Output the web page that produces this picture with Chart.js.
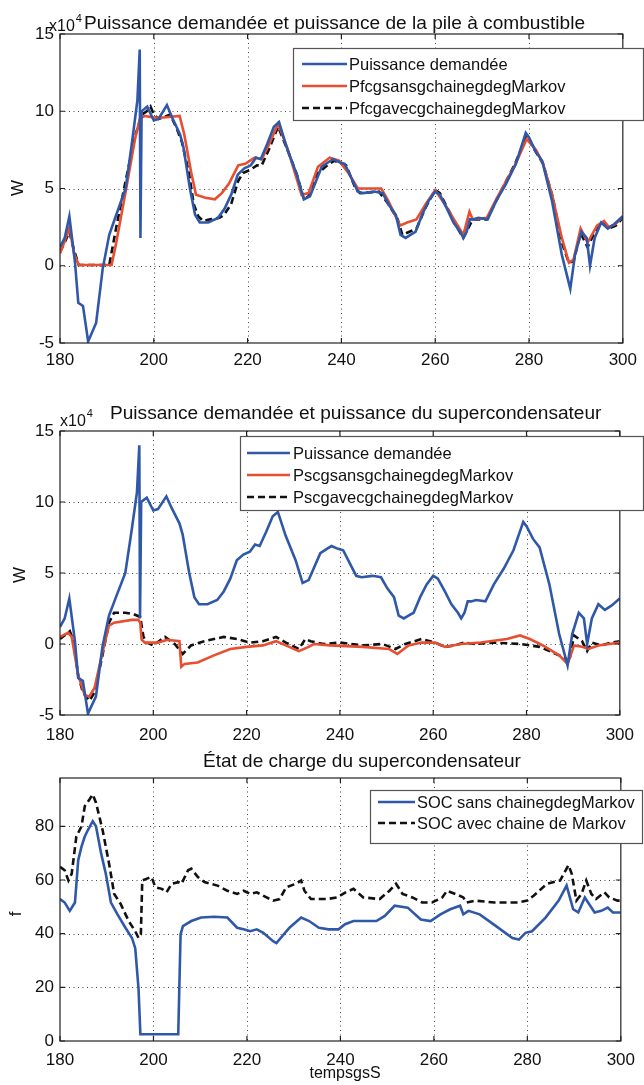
<!DOCTYPE html>
<html lang="fr">
<head>
<meta charset="UTF-8">
<title>Puissance et SOC</title>
<style>
  body { margin: 0; background: #fff; }
  #wrap { position: relative; width: 644px; height: 1085px; }
  canvas { position: absolute; left: 0; }
</style>
</head>
<body>
<div id="wrap">
  <canvas id="c1" width="644" height="365" style="top:0px"></canvas>
  <canvas id="c2" width="644" height="375" style="top:365px"></canvas>
  <canvas id="c3" width="644" height="345" style="top:740px"></canvas>
</div>
<script src="https://cdn.jsdelivr.net/npm/chart.js@4.4.1/dist/chart.umd.min.js"></script>
<script>
// [temps (s), valeur] - puissances en x10^4 W, SOC en %
const demande = [[180,1.2],[181,1.8],[182,3.2],[183.2,0.2],[183.9,-2.4],[184.9,-2.6],[186,-4.9],[187.7,-3.7],[189.1,-0.2],[190.5,2.0],[192,3.3],[194,5.0],[195.4,8.1],[196.5,10.7],[197.0,14.0],[197.15,1.8],[197.4,10.0],[198.6,10.3],[200,9.4],[201,9.5],[202.8,10.4],[203.9,9.6],[205.6,8.5],[206.3,7.7],[207.7,5.0],[208.8,3.3],[209.8,2.8],[211.6,2.8],[213.7,3.1],[215.1,3.7],[216.5,4.6],[217.9,5.9],[219.3,6.3],[220.7,6.5],[221.8,7.0],[222.8,6.9],[224.2,7.9],[225.6,9.0],[226.7,9.3],[228.4,7.6],[230.5,5.9],[232,4.3],[233.3,4.5],[235.8,6.4],[237.2,6.7],[238.2,6.9],[239.6,6.7],[240.7,6.6],[242.1,5.7],[243.5,4.8],[244.6,4.7],[247,4.8],[248.8,4.7],[250.2,3.9],[251.6,3.3],[252.6,2.0],[253.7,1.8],[254.7,2.0],[255.8,2.2],[257.2,3.3],[258.6,4.2],[260,4.8],[261,4.6],[262.5,3.7],[263.9,2.8],[265.3,2.2],[266,1.8],[266.7,2.2],[267.4,3.0],[268.1,3.0],[269.2,3.1],[271.2,3.0],[273,4.2],[275.1,5.3],[277.2,6.6],[279.3,8.6],[280,8.3],[281.4,7.4],[282.8,6.8],[284.9,4.2],[287,0.7],[288.8,-1.5],[289.8,0.7],[291.2,2.2],[292.3,1.8],[293,0.0],[294,1.8],[295.4,2.8],[296.8,2.4],[298.2,2.7],[300,3.2]];

const pfcSans = [[180,0.8],[181,1.6],[182,2.5],[183,0.8],[184,0.05],[191,0.05],[192,1.5],[194,4.8],[196,8.2],[197,9.5],[198,9.7],[200,9.6],[202,9.6],[205.5,9.7],[206.5,8.5],[208,6.0],[209,4.6],[211,4.4],[213,4.3],[214.5,4.7],[216,5.3],[218,6.5],[219.5,6.6],[221.5,7.0],[223,6.9],[224.5,7.8],[226.5,9.2],[228.5,7.6],[231.5,4.6],[233,4.7],[235,6.4],[237.5,7.0],[239.5,6.8],[241.5,6.0],[243.5,5.0],[248.5,5.0],[250,4.2],[252.5,2.6],[254,2.8],[256,3.0],[258,4.0],[260,4.9],[262,4.0],[264,3.0],[266,2.0],[267.3,3.5],[268,3.0],[271,3.1],[273,4.3],[277,6.5],[279.5,8.2],[281.5,7.5],[283,6.6],[285,4.5],[287,1.8],[288.5,0.2],[289.5,0.4],[291,2.4],[292.5,1.5],[294.5,2.6],[296,2.9],[297,2.5],[298.5,2.7],[300,3.2]];

const pfcAvec = [[180,0.9],[181,1.5],[182,2.2],[183,1.0],[184,0.05],[190.5,0.05],[192,2.5],[194,5.5],[196,8.4],[197.5,9.8],[198.5,10.0],[199.3,10.3],[200,9.8],[201,9.5],[202,9.6],[203.5,9.8],[205,8.8],[206,8.0],[207.5,6.0],[208.5,4.0],[209.5,3.2],[210.5,2.9],[212,3.0],[214,3.1],[215,3.3],[216.5,4.0],[218,5.5],[219,6.0],[220.5,6.2],[222,6.5],[223,6.5],[224.5,7.5],[226.5,9.0],[228.5,7.5],[230.5,5.9],[232,4.3],[233,4.5],[235,6.0],[237,6.5],[238.5,6.8],[240,6.6],[241,6.5],[243,5.0],[244,4.7],[248,4.8],[250,4.0],[252,3.0],[253,2.0],[254.5,2.2],[256,2.4],[258,3.8],[260,4.9],[261,4.7],[263,3.5],[265,2.3],[266,1.8],[267,2.4],[268,3.0],[271,3.0],[273,4.2],[277,6.6],[279.5,8.4],[281,7.6],[283,6.6],[285,4.5],[287,1.5],[288.5,0.2],[289.5,0.3],[291,2.1],[292.5,1.2],[294.5,2.5],[296,2.8],[297,2.4],[298.5,2.6],[300,3.1]];

const pscSans = [[180,0.5],[181.75,0.8],[182.5,0.5],[183.9,-2.2],[185.3,-3.6],[186.3,-3.7],[187.4,-3.1],[189.1,-0.6],[190.5,1.3],[191.6,1.5],[195.4,1.7],[196.8,1.7],[197.2,1.5],[197.5,0.3],[198.2,0.1],[201,0.1],[203,0.3],[205.6,0.2],[206,-1.6],[206.7,-1.4],[209.5,-1.3],[213,-0.8],[216.5,-0.35],[220,-0.2],[223.5,-0.1],[226.3,0.2],[228.4,-0.1],[231.2,-0.5],[233.3,-0.2],[234.4,0],[237.9,-0.1],[244.9,-0.2],[250.5,-0.35],[252.3,-0.7],[254.7,-0.1],[257.5,0.1],[260.4,0.1],[262.5,-0.2],[266,0],[270.2,0.1],[275.8,0.35],[278.6,0.6],[280.7,0.35],[283.5,-0.1],[287,-0.8],[288.8,-1.4],[290.2,-0.1],[291.9,-0.2],[293.3,-0.35],[295.4,-0.1],[300,0.1]];

const pscAvec = [[180,0.35],[182.1,0.9],[182.8,0.3],[183.9,-2.2],[184.9,-3.4],[186.3,-4.0],[187.4,-3.4],[189.1,-0.8],[190.5,1.5],[191.6,2.2],[194,2.2],[195.8,2.1],[197.2,1.9],[197.9,0.5],[198.6,0.1],[200,-0.1],[202.5,0.5],[204.6,0],[206.3,-0.7],[208.1,-0.1],[210.9,0.2],[215.1,0.5],[217.9,0.35],[220.7,0.1],[223.5,0.2],[226.3,0.5],[228.4,0.1],[231.2,-0.35],[232.6,0.35],[233.7,0.2],[236.5,0],[240,0.1],[244.9,-0.1],[249.1,0],[251.9,-0.35],[254,0],[257.5,0.35],[260.4,0.1],[262.5,-0.2],[264.6,-0.1],[266.7,0.1],[268.8,0],[273,0.1],[278.6,0],[282.8,-0.2],[285.6,-0.6],[288.4,-1.0],[289.1,-1.3],[290.2,0.6],[291.9,0.2],[293,-0.5],[294,0.1],[296.1,-0.1],[298.2,0.1],[300,0.2]];

const socSans = [[180,52.9],[181,51.6],[182.1,48.5],[183.2,51.6],[183.9,67.4],[184.6,72.4],[185.3,76.2],[186,78.7],[187,81.9],[187.7,80],[188.8,69.9],[189.8,62.3],[190.9,51.6],[192.3,47.2],[194,42.2],[195.4,38.4],[196.1,34.6],[196.8,19.5],[197.2,2.5],[205.3,2.5],[205.8,39.7],[206.3,42.8],[208.1,44.7],[210.2,46],[213,46.3],[215.8,46],[217.9,42.2],[219.3,41.6],[220.7,40.9],[222.1,41.6],[223.5,40.3],[225.6,37.2],[226.3,36.5],[229.1,42.2],[231.6,46],[233.3,44.7],[235.4,42.2],[237.5,41.6],[239.6,41.6],[241,43.5],[242.8,44.7],[247.7,44.7],[249.5,46.6],[251.6,50.4],[254.4,49.7],[257.2,45.3],[259.3,44.7],[261.4,47.2],[263.5,49.1],[265.6,50.4],[266.3,47.2],[267.4,48.5],[269.8,47.2],[273.3,42.8],[276.8,38.4],[278.2,37.8],[279.6,40.3],[281,40.9],[283.9,46],[286.7,52.3],[288.4,57.9],[289.8,49.1],[290.9,47.9],[292.3,53.5],[294.4,47.9],[295.8,48.5],[297.2,49.7],[298.3,47.9],[300,47.9]];

const socAvec = [[180,64.9],[181,63.6],[181.8,59.8],[182.5,62.3],[183.5,76.2],[184.6,80],[185.3,87.5],[186.3,90],[187,91.9],[187.7,88.8],[189.1,78.7],[190.5,66.1],[191.6,54.8],[193,51],[194.7,44.7],[196.1,40.9],[196.8,38.4],[197.3,39.7],[197.6,59.8],[198.6,60.5],[199.6,61.1],[200.4,57.3],[201.8,56.7],[202.8,55.4],[203.9,58.6],[205.3,59.2],[206,58.6],[207.4,63.6],[208.1,64.2],[209.5,61.1],[210.9,59.2],[213.7,57.9],[215.8,56],[217.9,54.8],[219.3,56],[220.7,54.8],[222.1,55.4],[224.2,53.5],[225.6,52.3],[227,52.9],[228.4,57.3],[230.5,58.6],[231.6,59.8],[232.3,56],[233.7,52.9],[237.2,52.9],[239.3,53.5],[241.1,55.4],[242.8,56.7],[244.9,53.5],[248.4,52.9],[250.5,56],[251.9,58.6],[253.3,54.8],[255.4,53.5],[257.5,51.6],[259.6,51.6],[261.8,53.5],[262.8,56],[264.6,54.8],[266.3,53.5],[267,51.6],[268.8,52.3],[273,51.6],[277.9,51.6],[280,52.3],[281.4,54.2],[284.2,58.6],[287,59.8],[288.8,65.5],[289.5,62.3],[290.5,52.3],[291.6,54.8],[292.6,59.8],[293.7,54.8],[294.7,52.9],[296.5,55.4],[297.5,53.5],[299.3,52.3],[300,52.3]];

const xTicks = [180, 200, 220, 240, 260, 280, 300];
const pTicks = [-5, 0, 5, 10, 15];
const socTicks = [0, 20, 40, 60, 80];

const FONT = '"Liberation Sans", Arial, Helvetica, sans-serif';
const BLUE = 'rgb(48,88,168)';
const RED = 'rgb(232,78,48)';
const BLACK = '#111';

Chart.defaults.font.family = FONT;
Chart.defaults.color = '#111';

// grille pointillee, cadre, graduations internes, textes et legende facon MATLAB
const decor = {
  id: 'decor',
  beforeDatasetsDraw(chart) {
    const {ctx, chartArea: a, scales: {x, y}} = chart;
    ctx.save();
    ctx.strokeStyle = '#444';
    ctx.lineWidth = 1;
    ctx.setLineDash([1, 3.5]);
    x.ticks.forEach(t => {
      const px = Math.round(x.getPixelForValue(t.value)) + 0.5;
      if (px < a.left + 2 || px > a.right - 2) return;
      ctx.beginPath(); ctx.moveTo(px, a.top); ctx.lineTo(px, a.bottom); ctx.stroke();
    });
    y.ticks.forEach(t => {
      const py = Math.round(y.getPixelForValue(t.value)) + 0.5;
      if (py < a.top + 2 || py > a.bottom - 2) return;
      ctx.beginPath(); ctx.moveTo(a.left, py); ctx.lineTo(a.right, py); ctx.stroke();
    });
    ctx.restore();
  },
  afterDatasetsDraw(chart) {
    const {ctx, chartArea: a, scales: {x, y}} = chart;
    ctx.save();
    ctx.strokeStyle = '#222';
    ctx.lineWidth = 1.2;
    ctx.strokeRect(a.left, a.top, a.right - a.left, a.bottom - a.top);
    ctx.beginPath();
    x.ticks.forEach(t => {
      const px = x.getPixelForValue(t.value);
      ctx.moveTo(px, a.bottom); ctx.lineTo(px, a.bottom - 5);
      ctx.moveTo(px, a.top); ctx.lineTo(px, a.top + 5);
    });
    y.ticks.forEach(t => {
      const py = y.getPixelForValue(t.value);
      ctx.moveTo(a.left, py); ctx.lineTo(a.left + 5, py);
      ctx.moveTo(a.right, py); ctx.lineTo(a.right - 5, py);
    });
    ctx.stroke();
    ctx.restore();
  },
  afterDraw(chart, args, o) {
    const ctx = chart.ctx;
    ctx.save();
    ctx.fillStyle = '#111';
    ctx.textBaseline = 'alphabetic';

    ctx.font = o.title.size + 'px ' + FONT;
    ctx.textAlign = 'left';
    ctx.fillText(o.title.text, o.title.x, o.title.y);

    if (o.expo) {
      ctx.textAlign = 'left';
      ctx.font = '16px ' + FONT;
      ctx.fillText('x10', o.expo.x, o.expo.y);
      const w = ctx.measureText('x10').width;
      ctx.font = '11px ' + FONT;
      ctx.fillText('4', o.expo.x + w + 1, o.expo.y - 9);
    }

    ctx.font = '17px ' + FONT;
    ctx.textAlign = 'center';
    ctx.save();
    ctx.translate(o.ylabel.x, o.ylabel.y);
    ctx.rotate(-Math.PI / 2);
    ctx.textBaseline = 'middle';
    ctx.fillText(o.ylabel.text, 0, 0);
    ctx.restore();

    if (o.xlabel) {
      ctx.font = '16px ' + FONT;
      ctx.fillText(o.xlabel.text, o.xlabel.x, o.xlabel.y);
    }

    const L = o.legend;
    ctx.fillStyle = '#fff';
    ctx.fillRect(L.x0, L.y0, L.x1 - L.x0, L.y1 - L.y0);
    ctx.strokeStyle = '#555';
    ctx.lineWidth = 1.2;
    ctx.strokeRect(L.x0 + 0.5, L.y0 + 0.5, L.x1 - L.x0, L.y1 - L.y0);
    ctx.font = L.size + 'px ' + FONT;
    ctx.textAlign = 'left';
    ctx.textBaseline = 'middle';
    chart.data.datasets.forEach((ds, i) => {
      const ry = L.rows[i];
      ctx.strokeStyle = ds.borderColor;
      ctx.lineWidth = ds.borderWidth;
      ctx.setLineDash(ds.borderDash || []);
      ctx.beginPath(); ctx.moveTo(L.lx0, ry); ctx.lineTo(L.lx1, ry); ctx.stroke();
      ctx.setLineDash([]);
      ctx.fillStyle = '#111';
      ctx.fillText(ds.label, L.tx, ry + 1);
    });
    ctx.restore();
  }
};

function series(label, pts, color, dash) {
  return {
    label: label,
    data: pts.map(p => ({x: p[0], y: p[1]})),
    borderColor: color,
    borderWidth: 2.6,
    borderDash: dash,
    pointRadius: 0,
    tension: 0,
    fill: false
  };
}

function makeChart(id, datasets, cfg) {
  return new Chart(document.getElementById(id), {
    type: 'line',
    data: {datasets: datasets},
    plugins: [decor],
    options: {
      responsive: false,
      animation: false,
      layout: {padding: {top: cfg.padTop, right: 16, left: 0, bottom: 0}},
      plugins: {legend: {display: false}, tooltip: {enabled: false}, decor: cfg.decor},
      scales: {
        x: {
          type: 'linear', min: 180, max: 300,
          afterBuildTicks: s => { s.ticks = xTicks.map(v => ({value: v})); },
          afterFit: s => { s.height = cfg.xH; },
          grid: {display: false, drawTicks: false},
          border: {display: false},
          ticks: {font: {size: 17}, padding: cfg.xPad, maxRotation: 0, color: '#111'}
        },
        y: {
          min: cfg.yMin, max: cfg.yMax,
          afterBuildTicks: s => { s.ticks = cfg.yTicks.map(v => ({value: v})); },
          afterFit: s => { s.width = 60; },
          grid: {display: false, drawTicks: false},
          border: {display: false},
          ticks: {font: {size: 17}, padding: 6, color: '#111'}
        }
      }
    }
  });
}

makeChart('c1', [
  series('Puissance demandée', demande, BLUE),
  series('PfcgsansgchainegdegMarkov', pfcSans, RED),
  series('PfcgavecgchainegdegMarkov', pfcAvec, BLACK, [7, 4])
], {
  padTop: 34, xH: 22, xPad: 7, yMin: -5, yMax: 15, yTicks: pTicks,
  decor: {
    title: {text: 'Puissance demandée et puissance de la pile à combustible', x: 84, y: 29, size: 19.1},
    expo: {x: 49, y: 31},
    ylabel: {text: 'W', x: 18, y: 188},
    legend: {x0: 293, y0: 48, x1: 643, y1: 120, rows: [64, 86, 108], lx0: 302, lx1: 347, tx: 349, size: 16.5}
  }
});

makeChart('c2', [
  series('Puissance demandée', demande, BLUE),
  series('PscgsansgchainegdegMarkov', pscSans, RED),
  series('PscgavecgchainegdegMarkov', pscAvec, BLACK, [7, 4])
], {
  padTop: 66, xH: 25, xPad: 10, yMin: -5, yMax: 15, yTicks: pTicks,
  decor: {
    title: {text: 'Puissance demandée et puissance du supercondensateur', x: 110, y: 54, size: 19.1},
    expo: {x: 60, y: 61},
    ylabel: {text: 'W', x: 20, y: 210},
    legend: {x0: 240, y0: 71, x1: 643, y1: 145, rows: [88, 110, 132], lx0: 247, lx1: 290, tx: 293, size: 16.5}
  }
});

makeChart('c3', [
  series('SOC sans chainegdegMarkov', socSans, BLUE),
  series('SOC avec chaine de Markov', socAvec, BLACK, [7, 4])
], {
  padTop: 38, xH: 44, xPad: 9, yMin: 0, yMax: 98, yTicks: socTicks,
  decor: {
    title: {text: 'État de charge du supercondensateur', x: 203, y: 27, size: 19},
    ylabel: {text: 'f', x: 16, y: 174},
    xlabel: {text: 'tempsgsS', x: 345, y: 338},
    legend: {x0: 370, y0: 50, x1: 642, y1: 103, rows: [62, 83], lx0: 378, lx1: 415, tx: 417, size: 16.4}
  }
});
</script>
</body>
</html>
